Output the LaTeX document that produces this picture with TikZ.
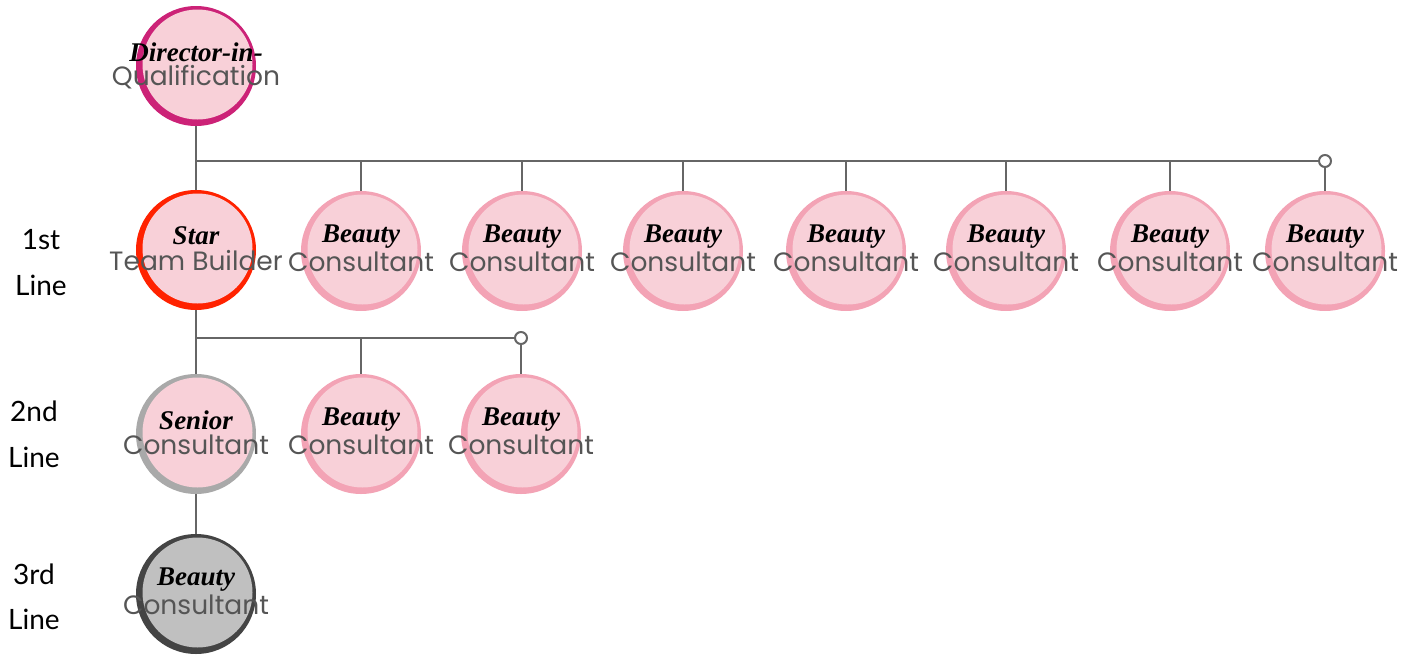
\documentclass[tikz,border=0pt]{standalone}
\usepackage{fontspec}
\setmainfont{Lato}
\newfontfamily\scriptf{Liberation Serif}
\newfontfamily\lightf{Poppins}
\usetikzlibrary{calc}
\definecolor{pinkfill}{HTML}{F8D0D8}
\definecolor{pinkring}{HTML}{F3A3B5}
\definecolor{magentaring}{HTML}{CC2277}
\definecolor{redring}{HTML}{FF2200}
\definecolor{silverring}{HTML}{A9A9A9}
\definecolor{darkring}{HTML}{444444}
\definecolor{greyfill}{HTML}{C0C0C0}
\definecolor{linegrey}{HTML}{666666}
\definecolor{txtgrey}{HTML}{555555}
\tikzset{
  badge/.style={circle, minimum size=120pt, inner sep=0pt},
  conn/.style={draw=linegrey, line width=2.6pt},
  endmark/.style={circle, draw=linegrey, fill=white, line width=2pt, minimum size=12pt, inner sep=0pt},
  toptext/.style={font=\scriptf\itshape\bfseries\fontsize{27}{27}\selectfont, text=black, inner sep=0pt},
  bottext/.style={font=\lightf\fontsize{26.5}{26.5}\selectfont, text=txtgrey, inner sep=0pt},
  sidelabel/.style={font=\fontsize{28}{30}\selectfont, inner sep=0pt}
}
\newcommand\mybadge[7]{%
  \node[badge, fill=#4] (#1) at (#2,#3) {};
  \fill[#5] ($(#1.center)+(1.5pt,1.5pt)$) circle (55pt);
  \node[toptext] at ($(#1.center)+(0,-14)$) {#6};
  \node[bottext] at ($(#1.center)+(0,11)$) {#7};
}
\begin{document}
\begin{tikzpicture}[x=1pt,y=-1pt]
\useasboundingbox (0,0) rectangle (1418,656);
% badges
\mybadge{dir}{196}{66}{magentaring}{pinkfill}{Director-in-}{Qualification}
\mybadge{star}{196}{250}{redring}{pinkfill}{Star}{Team Builder}
\mybadge{ba}{361}{251}{pinkring}{pinkfill}{Beauty}{Consultant}
\mybadge{bb}{522}{251}{pinkring}{pinkfill}{Beauty}{Consultant}
\mybadge{bc}{683}{251}{pinkring}{pinkfill}{Beauty}{Consultant}
\mybadge{bd}{846}{251}{pinkring}{pinkfill}{Beauty}{Consultant}
\mybadge{be}{1006}{251}{pinkring}{pinkfill}{Beauty}{Consultant}
\mybadge{bf}{1170}{251}{pinkring}{pinkfill}{Beauty}{Consultant}
\mybadge{bg}{1325}{251}{pinkring}{pinkfill}{Beauty}{Consultant}
\mybadge{sen}{196}{434}{silverring}{pinkfill}{Senior}{Consultant}
\mybadge{ca}{361}{434}{pinkring}{pinkfill}{Beauty}{Consultant}
\mybadge{cb}{521}{434}{pinkring}{pinkfill}{Beauty}{Consultant}
\mybadge{thr}{196}{594}{darkring}{greyfill}{Beauty}{Consultant}
% connectors, first line
\coordinate (j1) at (196,161);
\node[endmark] (e1) at (1325,161) {};
\draw[conn] (dir) -- (star);
\draw[conn] (j1) -- (e1);
\foreach \n in {ba,bb,bc,bd,be,bf} \draw[conn] (\n.north |- j1) -- (\n.north);
\draw[conn] (e1) -- (bg);
% second line
\coordinate (j2) at (196,338);
\node[endmark] (e2) at (521,338) {};
\draw[conn] (star) -- (sen);
\draw[conn] (j2) -- (e2);
\draw[conn] (ca.north |- j2) -- (ca.north);
\draw[conn] (e2) -- (cb);
% third line
\draw[conn] (sen) -- (thr);
% side labels
\node[sidelabel] (l1a) at (41,240) {1st};
\node[sidelabel] (l1b) at (41,285) {Line};
\node[sidelabel] (l2a) at (34,411) {2nd};
\node[sidelabel] (l2b) at (34,457) {Line};
\node[sidelabel] (l3a) at (34,574) {3rd};
\node[sidelabel] (l3b) at (34,619) {Line};
\end{tikzpicture}
\end{document}
